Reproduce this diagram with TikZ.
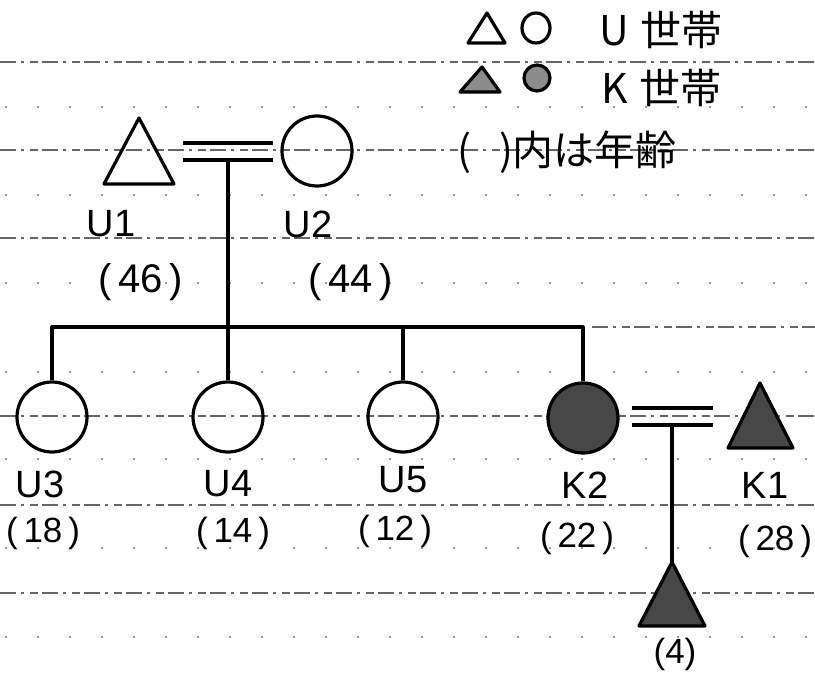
\documentclass[tikz,border=0pt]{standalone}
\usepackage{fontspec}
\setmainfont{Liberation Sans}
\newfontfamily\jp{Noto Sans CJK JP}
\begin{document}
\begin{tikzpicture}[x=1pt,y=-1pt,
  sym/.style={line width=3.2pt, line join=round},
  circ/.style={circle, draw, line width=3.2pt, minimum size=70pt, inner sep=0pt},
  kfill/.style={fill=black!72},
  rulel/.style={black!60, line width=1.3pt, dash pattern=on 16pt off 5pt on 3pt off 6pt on 8pt off 4pt},
  faint/.style={black!40, line width=1.2pt, dash pattern=on 2pt off 30pt},
  lbl/.style={font=\fontsize{38}{42}\selectfont, inner sep=0pt},
  agebig/.style={font=\fontsize{40}{44}\selectfont, inner sep=0pt},
  age/.style={font=\fontsize{35}{38}\selectfont, inner sep=0pt},
  leg/.style={font=\jp\fontsize{41}{44}\selectfont, inner sep=0pt, anchor=west}]
\useasboundingbox (0,0) rectangle (815,676);

% ruled paper lines
\foreach \yy in {62,150,238,416,505,593}
  \draw[rulel] (0,\yy) -- (815,\yy);
\draw[rulel] (592,327) -- (815,327);
\foreach \yy in {107,195,283,372,459,548,637}
  \draw[faint] (5,\yy) -- (815,\yy);

% legend
\draw[sym] (487,13) -- (505,43) -- (468,43) -- cycle;
\draw[sym] (536,28) ellipse [x radius=14pt, y radius=15pt];
\node[leg] (legu) at (599,30) {U\hspace{12pt}世帯};
\draw[sym, fill=black!45] (482,67) -- (500,92) -- (460,92) -- cycle;
\draw[sym, fill=black!45] (537,78) circle [radius=13pt];
\node[leg] (legk) at (601,88) {K\hspace{12pt}世帯};
\node[leg] (lega) at (457,152) {(\hspace{28pt})内は年齢};

% first generation
\coordinate (u1) at (139,151);
\draw[sym] (139,118) -- (174,184) -- (104,184) -- cycle;
\node[circ] (u2) at (317,151) {};
\coordinate (m1a) at (183,143);
\coordinate (m1b) at (183,160);
\coordinate (m1) at (228,160);
\draw[sym] (m1a) -- ([xshift=-7pt,yshift=8pt]u2.west);
\draw[sym] (m1b) -- ([xshift=-7pt,yshift=-9pt]u2.west);

\node[lbl] (lu1) at (111,224) {U1};
\node[lbl] (lu2) at (308,224) {U2};
\node[agebig] (au1) at (141,282) {(\,46\,)};
\node[agebig] (au2) at (351,282) {(\,44\,)};

% children
\node[circ] (u3) at (52,417) {};
\node[circ] (u4) at (228,417) {};
\node[circ] (u5) at (403,417) {};
\node[circ, kfill] (k2) at (583,418) {};
\coordinate (bar) at (0,327);

\draw[sym] (m1) -- (u4.north);
\draw[sym] (u3.north) -- (u3.north |- bar) -- (k2.north |- bar) -- (k2.north);
\draw[sym] (u5.north) -- (u5.north |- bar);

% K1
\draw[sym, kfill] (760,383) -- (793,448) -- (728,448) -- cycle;
\coordinate (m2a) at (632,408);
\coordinate (m2b) at (632,425);
\coordinate (m2) at (672,425);
\draw[sym] (m2a) -- (713,408);
\draw[sym] (m2b) -- (713,425);

% grandchild
\coordinate (c1) at (672,562);
\draw[sym, kfill] (c1) -- (705,626) -- (639,626) -- cycle;
\draw[sym] (m2) -- (c1);

% labels
\node[lbl] (lu3) at (40,484) {U3};
\node[lbl] (lu4) at (228,484) {U4};
\node[lbl] (lu5) at (403,480) {U5};
\node[lbl] (lk2) at (585,485) {K2};
\node[lbl] (lk1) at (765,485) {K1};
\node[age] (au3) at (43,533) {(\,18\,)};
\node[age] (au4) at (233,533) {(\,14\,)};
\node[age] (au5) at (395,531) {(\,12\,)};
\node[age] (ak2) at (577,538) {(\,22\,)};
\node[age] (ak1) at (775,541) {(\,28\,)};
\node[age] (ac1) at (675,654) {(4)};
\end{tikzpicture}
\end{document}
